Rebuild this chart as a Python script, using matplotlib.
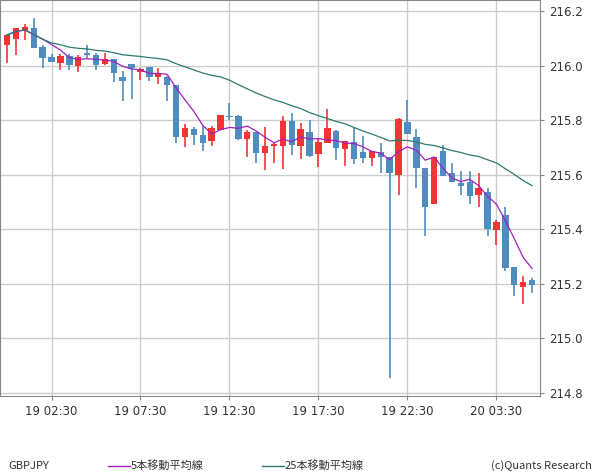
import matplotlib
matplotlib.use("Agg")
import matplotlib.pyplot as plt
import numpy as np
import pandas as pd

plt.rcParams['font.family'] = ['Noto Sans CJK JP', 'DejaVu Sans']

opens = [216.077,216.100,216.130,216.139,216.070,216.033,216.012,216.037,216.001,216.048,
         216.040,216.008,216.026,215.960,216.007,215.979,215.996,215.961,215.960,215.930,
         215.741,215.769,215.747,215.726,215.765,215.818,215.817,215.732,215.758,215.682,
         215.706,215.706,215.798,215.708,215.758,215.678,215.716,215.761,215.695,215.721,
         215.684,215.662,215.684,215.666,215.600,215.794,215.739,215.626,215.494,215.688,
         215.607,215.571,215.574,215.527,215.538,215.398,215.453,215.262,215.189,215.215]
highs = [216.114,216.139,216.154,216.176,216.077,216.044,216.044,216.044,216.040,216.077,
         216.048,216.048,216.026,215.983,216.007,215.994,215.996,215.993,215.964,215.930,
         215.787,215.776,215.780,215.780,215.820,215.864,215.821,215.765,215.758,215.777,
         215.717,215.817,215.828,215.792,215.802,215.736,215.842,215.765,215.725,215.776,
         215.743,215.688,215.717,215.666,215.809,215.875,215.769,215.626,215.666,215.710,
         215.644,215.615,215.615,215.607,215.552,215.435,215.483,215.262,215.229,215.222]
lows = [216.012,216.040,216.095,216.066,215.994,216.016,215.985,215.985,215.978,216.029,
        215.985,216.005,215.942,215.873,215.879,215.950,215.946,215.935,215.873,215.719,
        215.704,215.711,215.689,215.708,215.765,215.803,215.728,215.666,215.645,215.619,
        215.645,215.623,215.674,215.659,215.667,215.630,215.716,215.655,215.634,215.641,
        215.644,215.633,215.607,214.855,215.527,215.750,215.552,215.376,215.494,215.596,
        215.574,215.527,215.494,215.483,215.376,215.343,215.248,215.156,215.127,215.167]
closes = [216.114,216.139,216.143,216.066,216.030,216.016,216.037,216.005,216.033,216.041,
          216.005,216.026,215.975,215.946,215.992,215.989,215.961,215.974,215.931,215.741,
          215.772,215.747,215.719,215.772,215.820,215.814,215.732,215.758,215.682,215.706,
          215.714,215.798,215.710,215.769,215.670,215.721,215.772,215.699,215.725,215.659,
          215.662,215.688,215.666,215.607,215.805,215.750,215.626,215.483,215.666,215.596,
          215.574,215.560,215.523,215.552,215.402,215.427,215.259,215.196,215.207,215.196]

tick_pos = [5, 15, 25, 35, 45, 55]
tick_labels = ['19 02:30', '19 07:30', '19 12:30', '19 17:30', '19 22:30', '20 03:30']
y_ticks = [214.8, 215.0, 215.2, 215.4, 215.6, 215.8, 216.0, 216.2]

UP = '#f03535'
DOWN = '#4f8cc0'
MA5C = '#a020c0'
MA25C = '#2a7a70'

s = pd.Series(closes)
ma5 = s.rolling(5, min_periods=1).mean()
ma25 = s.rolling(25, min_periods=1).mean()

fig = plt.figure(figsize=(6.0, 4.75), dpi=100)
ax = fig.add_axes([0.0, 1 - 396/475, 540/600, 396/475])
x = np.arange(len(closes))
for i in x:
    o, h, l, c = opens[i], highs[i], lows[i], closes[i]
    col = UP if c >= o else DOWN
    ax.vlines(i, l, h, color=col, lw=1.2, zorder=2)
    ax.bar(i, max(abs(c - o), 0.002), bottom=min(o, c), width=0.72, color=col, zorder=3)
ax.plot(x, ma5, color=MA5C, lw=0.9, zorder=4)
ax.plot(x, ma25, color=MA25C, lw=0.9, zorder=4)

ax.set_xlim(-0.79, 59.9)
ax.set_ylim(214.789, 216.242)
ax.set_xticks(tick_pos)
ax.set_xticklabels(tick_labels, fontsize=8.5, color='#333333', family='DejaVu Sans')
ax.set_yticks(y_ticks)
ax.set_yticklabels([f'{v:.1f}' for v in y_ticks], fontsize=8.5, color='#333333', family='DejaVu Sans')
ax.yaxis.tick_right()
ax.tick_params(length=3, color='#888888')
ax.grid(True, color='#cccccc', lw=1)
ax.set_axisbelow(True)
for sp in ax.spines.values():
    sp.set_color('#888888')

fig.text(8/600, 1 - 466/475, 'GBPJPY', fontsize=8, va='center', color='#333333')
fig.add_artist(plt.Line2D([108/600, 130/600], [1 - 466/475]*2, color=MA5C, lw=1))
fig.text(131/600, 1 - 466/475, '5本移動平均線', fontsize=8, va='center', color='#333333')
fig.add_artist(plt.Line2D([262/600, 284/600], [1 - 466/475]*2, color=MA25C, lw=1))
fig.text(285/600, 1 - 466/475, '25本移動平均線', fontsize=8, va='center', color='#333333')
fig.text(592/600, 1 - 466/475, '(c)Quants Research', fontsize=8, va='center', ha='right', color='#333333')

fig.savefig('out.png', dpi=100)
